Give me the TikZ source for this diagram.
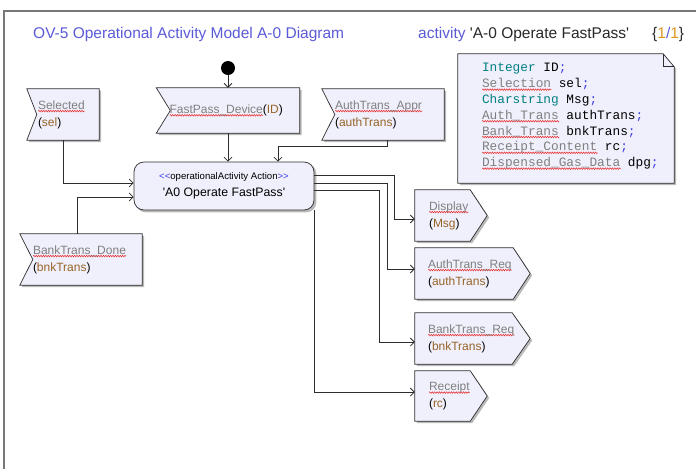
\documentclass[tikz,border=0pt]{standalone}
\usepackage{fontspec}
\setmainfont{Liberation Sans}[Ligatures=TeXOff]
\setmonofont{Liberation Mono}[Ligatures=TeXOff]
\usetikzlibrary{arrows.meta,backgrounds,decorations.pathmorphing}
\definecolor{titleblue}{RGB}{90,90,215}
\definecolor{typegray}{RGB}{128,128,128}
\definecolor{parbrown}{RGB}{150,100,40}
\definecolor{teal1}{RGB}{0,128,128}
\definecolor{semiblue}{RGB}{60,60,230}
\definecolor{wavered}{RGB}{230,40,40}
\definecolor{gold1}{RGB}{220,150,30}
\definecolor{nodefill}{RGB}{240,240,252}
\definecolor{edgecol}{RGB}{45,45,45}
\definecolor{shadowc}{RGB}{185,185,185}
\definecolor{framegray}{RGB}{120,120,120}
\definecolor{darktext}{RGB}{40,40,40}
\newlength\tywd
\newcommand\ty[1]{\settowidth\tywd{#1}\rlap{\raisebox{-3pt}{\tikz[x=1pt,y=1pt]\draw[wavered,line width=0.5pt,decorate,decoration={zigzag,segment length=2.4pt,amplitude=0.8pt}] (0,0) -- (\tywd,0);}}\textcolor{typegray}{#1}}
\newcommand\pa[1]{\textcolor{parbrown}{#1}}
\newcommand\semi[1]{\textcolor{semiblue}{#1}}
\newcommand\acceptshape[2]{%
  \fill[shadowc,transform canvas={xshift=2pt,yshift=-2pt}] (#1.north west) -- (#1.north east) -- (#1.south east) -- (#1.south west) -- ([xshift=#2]#1.west) -- cycle;
  \filldraw[shapest] (#1.north west) -- (#1.north east) -- (#1.south east) -- (#1.south west) -- ([xshift=#2]#1.west) -- cycle;}
\newcommand\sendshape[2]{%
  \fill[shadowc,transform canvas={xshift=2pt,yshift=-2pt}] (#1.north west) -- ([xshift=-#2]#1.north east) -- (#1.east) -- ([xshift=-#2]#1.south east) -- (#1.south west) -- cycle;
  \filldraw[shapest] (#1.north west) -- ([xshift=-#2]#1.north east) -- (#1.east) -- ([xshift=-#2]#1.south east) -- (#1.south west) -- cycle;}
\begin{document}
\begin{tikzpicture}[x=1pt,y=-1pt,
  lbl/.style={inner xsep=#1, inner ysep=0pt, align=left, font=\fontsize{12}{17}\selectfont},
  shapest/.style={fill=nodefill, draw=edgecol, line width=0.7pt},
  arr/.style={draw=edgecol, line width=0.75pt, -{Straight Barb[length=4pt,width=8pt]}},
  hdr/.style={anchor=west, inner sep=0pt, font=\fontsize{15.5}{18}\selectfont},
  actbox/.style={draw=edgecol, fill=nodefill, line width=0.7pt, rounded corners=10pt, minimum width=180pt, minimum height=48pt, inner sep=0pt, align=center, font=\fontsize{12.3}{17}\selectfont}]
\useasboundingbox (0,0) rectangle (696,469);

% header
\node[hdr, text=titleblue] (title) at (33,34) {OV-5 Operational Activity Model A-0 Diagram};
\node[hdr, text=darktext] (actname) at (418,34) {\textcolor{titleblue}{activity} 'A-0 Operate FastPass'};
\node[hdr, text=darktext] (page) at (652,34) {\{\textcolor{gold1}{1}\textcolor{titleblue}{/}\textcolor{gold1}{1}\}};

% start
\node[circle, fill=black, minimum size=14pt, inner sep=0pt] (start) at (228,68) {};

% input signals
\node[lbl=11pt, text width=50pt, minimum height=51pt] (sel) at (63,114.5) {\ty{Selected}\\(\pa{sel})};
\node[lbl=13pt, text width=117pt, minimum height=45pt] (fpd) at (228,110.5) {\ty{FastPass\_Device}(\pa{ID})};
\node[lbl=13pt, text width=96pt, minimum height=51pt] (ata) at (383,114.5) {\ty{AuthTrans\_Appr}\\(\pa{authTrans})};
\node[lbl=13pt, text width=96pt, minimum height=51pt] (btd) at (81,259.5) {\ty{BankTrans\_Done}\\(\pa{bnkTrans})};

% action
\node[actbox] (act) at (224,186) {{\fontsize{9.6}{10}\selectfont\semi{<<}operationalActivity Action\semi{>>}}\\'A0 Operate FastPass'};

% output signals
\node[lbl=14pt, text width=44pt, minimum height=51pt] (disp) at (451,215.5) {\ty{Display}\\(\pa{Msg})};
\node[lbl=13pt, text width=89pt, minimum height=51pt] (atr) at (472.5,273.5) {\ty{AuthTrans\_Req}\\(\pa{authTrans})};
\node[lbl=13pt, text width=89pt, minimum height=51pt] (btr) at (472.5,338.5) {\ty{BankTrans\_Req}\\(\pa{bnkTrans})};
\node[lbl=14pt, text width=44pt, minimum height=50pt] (rcp) at (451,396) {\ty{Receipt}\\(\pa{rc})};

% note
\node[minimum width=216pt, minimum height=129pt, inner sep=0pt] (note) at (566,118.5) {};
\node[anchor=west, inner sep=0pt, align=left, font=\ttfamily\fontsize{12.8}{15.8}\selectfont] (notetext) at ([xshift=24pt,yshift=2pt]note.west) {%
\textcolor{teal1}{Integer} ID\semi{;}\\
\ty{Selection} sel\semi{;}\\
\textcolor{teal1}{Charstring} Msg\semi{;}\\
\ty{Auth\_Trans} authTrans\semi{;}\\
\ty{Bank\_Trans} bnkTrans\semi{;}\\
\ty{Receipt\_Content} rc\semi{;}\\
\ty{Dispensed\_Gas\_Data} dpg\semi{;}};

\begin{scope}[on background layer]
  \draw[framegray, line width=1.5pt] (4,469) -- (4,11) -- (696,11);
  \acceptshape{sel}{10pt}
  \acceptshape{fpd}{14pt}
  \acceptshape{ata}{13pt}
  \acceptshape{btd}{13pt}
  \sendshape{disp}{17pt}
  \sendshape{atr}{17pt}
  \sendshape{btr}{18pt}
  \sendshape{rcp}{17pt}
  \fill[shadowc,transform canvas={xshift=2pt,yshift=-2pt}, rounded corners=10pt] (act.north west) rectangle (act.south east);
  \fill[shadowc,transform canvas={xshift=2pt,yshift=-2pt}] (note.north west) -- ([xshift=-11pt]note.north east) -- ([yshift=-13pt]note.north east) -- (note.south east) -- (note.south west) -- cycle;
  \filldraw[shapest] (note.north west) -- ([xshift=-11pt]note.north east) -- ([yshift=-13pt]note.north east) -- (note.south east) -- (note.south west) -- cycle;
  \draw[edgecol, line width=0.7pt] ([xshift=-11pt]note.north east) -- ([xshift=-11pt,yshift=-13pt]note.north east) -- ([yshift=-13pt]note.north east);
\end{scope}

% connectors
\draw[arr] (start) -- (fpd.north);
\draw[arr] (fpd.south) -- (fpd.south |- act.north);
\draw[arr] ([xshift=4pt]ata.south) -- ++(0,6) -| ([xshift=54pt]act.north);
\draw[arr] (sel.south) |- ([yshift=3pt]act.west);
\draw[arr] ([xshift=-4pt]btd.north) |- ([yshift=-11pt]act.west);
\draw[arr] ([yshift=11pt]act.east) -| ++(80,44) -- ([yshift=-3.5pt]disp.west);
\draw[arr] ([yshift=3pt]act.east) -| ++(73,86) -- ([yshift=4.5pt]atr.west);
\draw[arr] ([yshift=-4pt]act.east) -| ++(65,152) -- ([yshift=-3.5pt]btr.west);
\draw[arr] (act.south east) |- ([yshift=4pt]rcp.west);
\end{tikzpicture}
\end{document}
